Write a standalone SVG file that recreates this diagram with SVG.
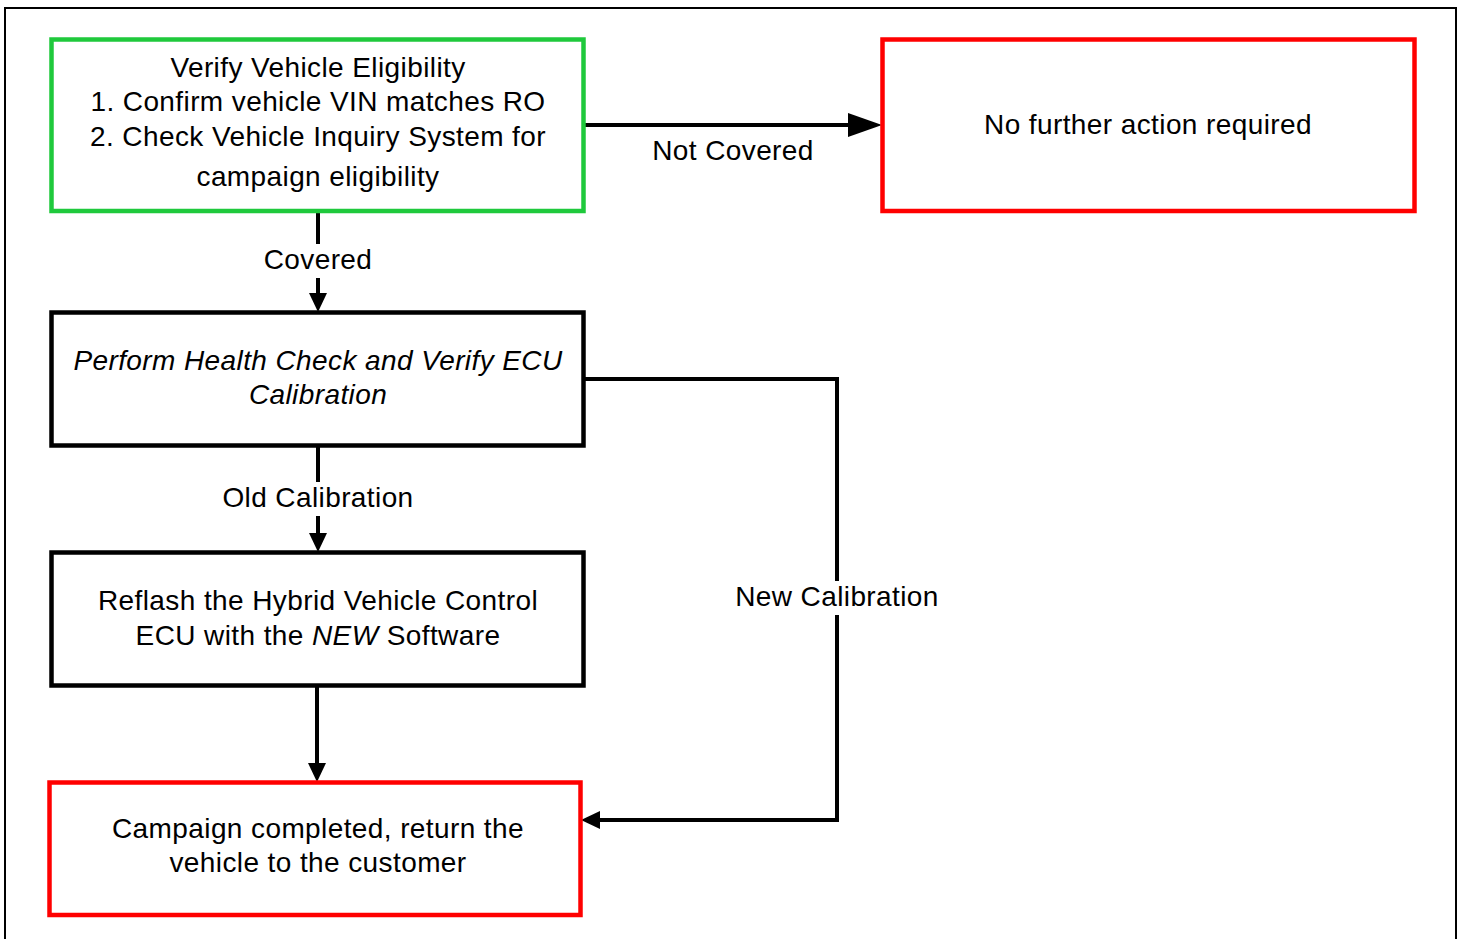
<svg xmlns="http://www.w3.org/2000/svg" width="1462" height="939" viewBox="0 0 1462 939">
<style>
text{font-family:"Liberation Sans",Arial,sans-serif;font-size:28px;fill:#000;text-anchor:middle;letter-spacing:0.4px}
.it{font-style:italic}
.box{fill:#fff;stroke-width:4.5}
.g{stroke:#1fc93c}
.r{stroke:#ff0000}
.k{stroke:#000}
.ln{fill:none;stroke:#000;stroke-width:4}
.ah{fill:#000}
.bg{fill:#fff}
</style>
<rect x="0" y="0" width="1462" height="939" fill="#fff"/>
<path d="M5,939 V8 H1456 V939" fill="none" stroke="#000" stroke-width="2"/>
<g id="connectors">
<path class="ln" d="M583,125 H848"/>
<polygon class="ah" points="848,113 882,125 848,137"/>
<path class="ln" d="M318,211 V295"/>
<polygon class="ah" points="309,293 327,293 318,312"/>
<path class="ln" d="M318,446 V535"/>
<polygon class="ah" points="309,533 327,533 318,552"/>
<path class="ln" d="M317,686 V765"/>
<polygon class="ah" points="308,763 326,763 317,782"/>
<path class="ln" d="M584,379 H837 V820 H598"/>
<polygon class="ah" points="600,811 600,829 581,820"/>
<rect class="bg" x="260" y="244" width="116" height="34"/>
<rect class="bg" x="218" y="482" width="200" height="34"/>
<rect class="bg" x="731" y="581" width="212" height="34"/>
<text x="733" y="160">Not Covered</text>
<text x="318" y="269">Covered</text>
<text x="318" y="507">Old Calibration</text>
<text x="837" y="606">New Calibration</text>
</g>
<g id="verify">
<rect class="box g" x="51.5" y="39.5" width="532" height="171.5"/>
<text x="318" y="77">Verify Vehicle Eligibility</text>
<text x="318" y="111">1. Confirm vehicle VIN matches RO</text>
<text x="318" y="146">2. Check Vehicle Inquiry System for</text>
<text x="318" y="186">campaign eligibility</text>
</g>
<g id="noaction">
<rect class="box r" x="882.5" y="39.5" width="532" height="171.5"/>
<text x="1148" y="134">No further action required</text>
</g>
<g id="health">
<rect class="box k" x="51.5" y="312.5" width="532" height="133"/>
<text class="it" x="318" y="370">Perform Health Check and Verify ECU</text>
<text class="it" x="318" y="404">Calibration</text>
</g>
<g id="reflash">
<rect class="box k" x="51.5" y="552.5" width="532" height="133"/>
<text x="318" y="610">Reflash the Hybrid Vehicle Control</text>
<text x="318" y="645">ECU with the <tspan class="it">NEW</tspan> Software</text>
</g>
<g id="complete">
<rect class="box r" x="49.5" y="782.5" width="531" height="132.5"/>
<text x="318" y="838">Campaign completed, return the</text>
<text x="318" y="872">vehicle to the customer</text>
</g>
</svg>
